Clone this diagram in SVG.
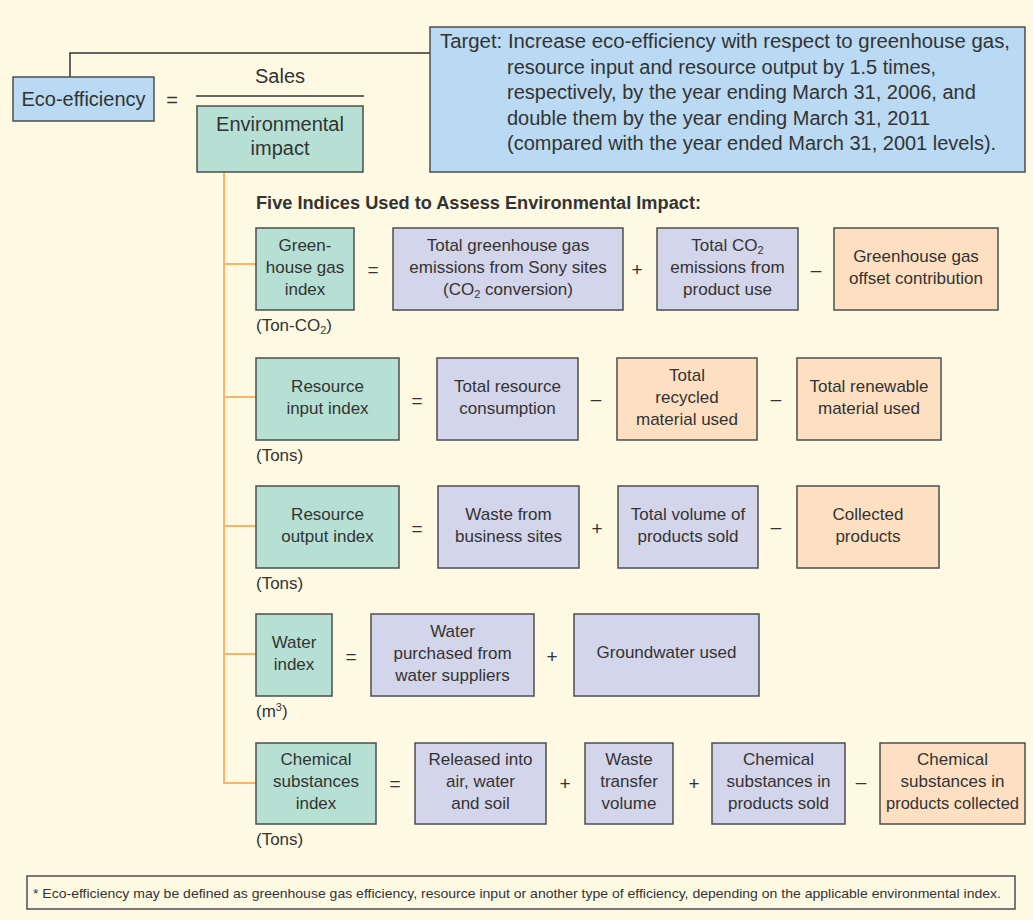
<svg xmlns="http://www.w3.org/2000/svg" width="1033" height="920" viewBox="0 0 1033 920">
<style>
text{font-family:"Liberation Sans",Arial,sans-serif;fill:#333;}
.t{font-size:17px;text-anchor:middle;}
.big{font-size:20px;text-anchor:middle;}
.tg{font-size:20px;}
.op{font-size:19px;text-anchor:middle;}
.u{font-size:17px;}
.box{stroke:#4d4d4d;stroke-width:1.5;}
.blue{fill:#b9daf2;}
.teal{fill:#b6e0d3;}
.lav{fill:#d3d5ea;}
.peach{fill:#fde0c2;}
.ln{stroke:#333;stroke-width:1.5;fill:none;}
.or{stroke:#f8b565;stroke-width:2;fill:none;}
</style>
<rect x="0" y="0" width="1033" height="920" fill="#fef9e3"/>

<g id="connectors">
<polyline class="ln" points="70,77 70,53 430,53"/>
<line class="ln" x1="196" y1="96" x2="364" y2="96"/>
<line class="or" x1="224" y1="172" x2="224" y2="784"/>
<line class="or" x1="223" y1="264" x2="256" y2="264"/>
<line class="or" x1="223" y1="397" x2="256" y2="397"/>
<line class="or" x1="223" y1="526" x2="256" y2="526"/>
<line class="or" x1="223" y1="654" x2="256" y2="654"/>
<line class="or" x1="223" y1="783" x2="256" y2="783"/>
</g>

<g id="eco-efficiency">
<rect class="box blue" x="13" y="77" width="141" height="44"/>
<text class="big" x="83.5" y="106">Eco-efficiency</text>
</g>
<text class="big" x="172" y="107">=</text>
<text class="big" x="280" y="83">Sales</text>
<g id="environmental-impact">
<rect class="box teal" x="197" y="106" width="166" height="66"/>
<text class="big" x="280" y="131">Environmental</text>
<text class="big" x="280" y="155">impact</text>
</g>

<g id="target">
<rect class="box blue" x="430" y="27" width="595" height="145"/>
<text class="tg" x="440" y="48" textLength="570" lengthAdjust="spacingAndGlyphs">Target: Increase eco-efficiency with respect to greenhouse gas,</text>
<text class="tg" x="507" y="73.5">resource input and resource output by 1.5 times,</text>
<text class="tg" x="507" y="99">respectively, by the year ending March 31, 2006, and</text>
<text class="tg" x="507" y="124.5">double them by the year ending March 31, 2011</text>
<text class="tg" x="507" y="150">(compared with the year ended March 31, 2001 levels).</text>
</g>

<text x="256" y="209" font-size="18" font-weight="bold" textLength="445" lengthAdjust="spacingAndGlyphs">Five Indices Used to Assess Environmental Impact:</text>

<!-- Row 1 -->
<g id="greenhouse-gas-index">
<rect class="box teal" x="256" y="228" width="98" height="82"/>
<text class="t" x="305" y="251">Green-</text>
<text class="t" x="305" y="273">house gas</text>
<text class="t" x="305" y="295">index</text>
</g>
<text class="op" x="373" y="276">=</text>
<g id="gh-sony-sites">
<rect class="box lav" x="393" y="228" width="230" height="82"/>
<text class="t" x="508" y="251">Total greenhouse gas</text>
<text class="t" x="508" y="273">emissions from Sony sites</text>
<text class="t" x="508" y="295">(CO<tspan font-size="11" dy="3">2</tspan><tspan dy="-3"> conversion)</tspan></text>
</g>
<text class="op" x="637" y="276">+</text>
<g id="gh-product-use">
<rect class="box lav" x="657" y="228" width="141" height="82"/>
<text class="t" x="727.5" y="251">Total CO<tspan font-size="11" dy="3">2</tspan></text>
<text class="t" x="727.5" y="273">emissions from</text>
<text class="t" x="727.5" y="295">product use</text>
</g>
<text class="op" x="816" y="276">–</text>
<g id="gh-offset">
<rect class="box peach" x="834" y="228" width="164" height="82"/>
<text class="t" x="916" y="262">Greenhouse gas</text>
<text class="t" x="916" y="284">offset contribution</text>
</g>
<text class="u" x="256" y="331">(Ton-CO<tspan font-size="11" dy="3">2</tspan><tspan dy="-3">)</tspan></text>

<!-- Row 2 -->
<g id="resource-input-index">
<rect class="box teal" x="256" y="358" width="143" height="82"/>
<text class="t" x="327.5" y="392">Resource</text>
<text class="t" x="327.5" y="414">input index</text>
</g>
<text class="op" x="417" y="407">=</text>
<g id="ri-consumption">
<rect class="box lav" x="437" y="358" width="141" height="82"/>
<text class="t" x="507.5" y="392">Total resource</text>
<text class="t" x="507.5" y="414">consumption</text>
</g>
<text class="op" x="596" y="405">–</text>
<g id="ri-recycled">
<rect class="box peach" x="617" y="358" width="140" height="82"/>
<text class="t" x="687" y="381">Total</text>
<text class="t" x="687" y="403">recycled</text>
<text class="t" x="687" y="425">material used</text>
</g>
<text class="op" x="776" y="405">–</text>
<g id="ri-renewable">
<rect class="box peach" x="797" y="358" width="144" height="82"/>
<text class="t" x="869" y="392">Total renewable</text>
<text class="t" x="869" y="414">material used</text>
</g>
<text class="u" x="256" y="461">(Tons)</text>

<!-- Row 3 -->
<g id="resource-output-index">
<rect class="box teal" x="256" y="486" width="143" height="82"/>
<text class="t" x="327.5" y="520">Resource</text>
<text class="t" x="327.5" y="542">output index</text>
</g>
<text class="op" x="417" y="535">=</text>
<g id="ro-waste">
<rect class="box lav" x="438" y="486" width="141" height="82"/>
<text class="t" x="508.5" y="520">Waste from</text>
<text class="t" x="508.5" y="542">business sites</text>
</g>
<text class="op" x="597" y="535">+</text>
<g id="ro-products-sold">
<rect class="box lav" x="618" y="486" width="140" height="82"/>
<text class="t" x="688" y="520">Total volume of</text>
<text class="t" x="688" y="542">products sold</text>
</g>
<text class="op" x="776" y="533">–</text>
<g id="ro-collected">
<rect class="box peach" x="797" y="486" width="142" height="82"/>
<text class="t" x="868" y="520">Collected</text>
<text class="t" x="868" y="542">products</text>
</g>
<text class="u" x="256" y="589">(Tons)</text>

<!-- Row 4 -->
<g id="water-index">
<rect class="box teal" x="256" y="614" width="76" height="82"/>
<text class="t" x="294" y="648">Water</text>
<text class="t" x="294" y="670">index</text>
</g>
<text class="op" x="351" y="663">=</text>
<g id="w-purchased">
<rect class="box lav" x="371" y="614" width="163" height="82"/>
<text class="t" x="452.5" y="637">Water</text>
<text class="t" x="452.5" y="659">purchased from</text>
<text class="t" x="452.5" y="681">water suppliers</text>
</g>
<text class="op" x="552" y="663">+</text>
<g id="w-groundwater">
<rect class="box lav" x="574" y="614" width="185" height="82"/>
<text class="t" x="666.5" y="658">Groundwater used</text>
</g>
<text class="u" x="256" y="717">(m<tspan font-size="11" dy="-6">3</tspan><tspan dy="6">)</tspan></text>

<!-- Row 5 -->
<g id="chemical-substances-index">
<rect class="box teal" x="256" y="743" width="120" height="81"/>
<text class="t" x="316" y="765">Chemical</text>
<text class="t" x="316" y="787">substances</text>
<text class="t" x="316" y="809">index</text>
</g>
<text class="op" x="395" y="790">=</text>
<g id="c-released">
<rect class="box lav" x="415" y="743" width="131" height="81"/>
<text class="t" x="480.5" y="765">Released into</text>
<text class="t" x="480.5" y="787">air, water</text>
<text class="t" x="480.5" y="809">and soil</text>
</g>
<text class="op" x="565" y="790">+</text>
<g id="c-waste-transfer">
<rect class="box lav" x="585" y="743" width="88" height="81"/>
<text class="t" x="629" y="765">Waste</text>
<text class="t" x="629" y="787">transfer</text>
<text class="t" x="629" y="809">volume</text>
</g>
<text class="op" x="694" y="790">+</text>
<g id="c-products-sold">
<rect class="box lav" x="712" y="743" width="133" height="81"/>
<text class="t" x="778.5" y="765">Chemical</text>
<text class="t" x="778.5" y="787">substances in</text>
<text class="t" x="778.5" y="809">products sold</text>
</g>
<text class="op" x="861" y="788">–</text>
<g id="c-products-collected">
<rect class="box peach" x="880" y="743" width="145" height="81"/>
<text class="t" x="952.5" y="765">Chemical</text>
<text class="t" x="952.5" y="787">substances in</text>
<text class="t" x="952.5" y="809" textLength="133" lengthAdjust="spacingAndGlyphs">products collected</text>
</g>
<text class="u" x="256" y="845">(Tons)</text>

<g id="footnote">
<rect x="27" y="876" width="988" height="33" fill="none" stroke="#4d4d4d" stroke-width="1.5"/>
<text x="33" y="898" font-size="13.5" textLength="968" lengthAdjust="spacingAndGlyphs">* Eco-efficiency may be defined as greenhouse gas efficiency, resource input or another type of efficiency, depending on the applicable environmental index.</text>
</g>
</svg>
